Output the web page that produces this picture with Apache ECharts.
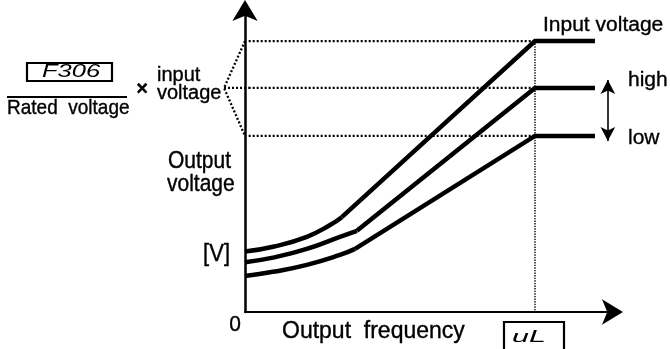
<!DOCTYPE html>
<html>
<head>
<meta charset="utf-8">
<script src="https://cdn.jsdelivr.net/npm/echarts@6/dist/echarts.min.js"></script>
<style>
html,body{margin:0;padding:0;background:#fff;}
#chart{width:670px;height:349px;}
</style>
</head>
<body>
<div id="chart"></div>
<script>
// ---- data (schematic units: frequency 0..100, voltage 0..100) ----
const freqRange = [0, 100];
const voltRange = [0, 100];
const baseFreq = 78.8;          // uL (upper limit frequency)
const freqEnd = 95.1;           // end of the flat segments
const voltLevels = [89.7, 74.2, 58.3];   // input voltage, high, low
const bracketFreq = -5.7;       // apex of the dotted bracket (left of axis)
const dotStartFreq = 1.0;
const upperCurve = [[0, 20.0], [7.6, 21.6], [16.8, 24.9], [23.1, 28.8], [26.3, 31.4]];
const middleCurve = [[0, 16.5], [7.6, 18.0], [16.8, 20.9], [25.8, 24.9], [30.4, 26.9]];
const lowerCurve = [[0, 11.9], [7.6, 13.3], [16.8, 15.6], [25.8, 18.9], [29.9, 20.9]];
const arrowFreq = 98.6;
const arrowVolt = [76.8, 56.6];

const curves = [upperCurve, middleCurve, lowerCurve];
const FONT = '"Liberation Sans", Arial, sans-serif';
const DOT = { color: '#000', width: 2.3, dash: [2, 2] };

const series = [];
// dotted horizontal guides
voltLevels.forEach(function (v) {
  series.push({
    type: 'line', silent: true, symbol: 'none', z: 1,
    data: [[dotStartFreq, v], [baseFreq, v]],
    lineStyle: { color: DOT.color, width: DOT.width, type: DOT.dash }
  });
});
// dotted vertical at uL + double arrow
series.push({
  type: 'line', silent: true, symbol: 'none', z: 1,
  data: [[baseFreq, voltLevels[0]], [baseFreq, 0]],
  lineStyle: { color: '#000', width: 1.4, type: [1.4, 1.2] },
  markLine: {
    silent: true, symbol: ['arrow', 'arrow'], symbolSize: [11, 14],
    label: { show: false },
    lineStyle: { color: '#000', width: 1.6, type: 'solid' },
    data: [[{ coord: [arrowFreq, arrowVolt[0]] }, { coord: [arrowFreq, arrowVolt[1]] }]]
  }
});
// curves and straight segments
curves.forEach(function (c, i) {
  series.push({
    type: 'line', silent: true, symbol: 'none', smooth: 0.5, z: 3,
    data: c,
    lineStyle: { color: '#000', width: 4.5 }
  });
  series.push({
    type: 'line', silent: true, symbol: 'none', z: 3,
    data: [c[c.length - 1], [baseFreq, voltLevels[i]], [freqEnd, voltLevels[i]]],
    lineStyle: { color: '#000', width: 4.5, join: 'miter' }
  });
});

function txt(text, x, y, size, align, extra) {
  const st = {
    text: text, font: (extra && extra.font) || (size + 'px ' + FONT), fill: '#000',
    stroke: '#000', lineWidth: (extra && extra.lw !== undefined) ? extra.lw : 0.35,
    textAlign: align, align: align, textVerticalAlign: 'middle', verticalAlign: 'middle'
  };
  const el = { type: 'text', x: x, y: y, silent: true, z: 100, style: st };
  if (extra && extra.scaleX) { el.scaleX = extra.scaleX; }
  if (extra && extra.scaleY) { el.scaleY = extra.scaleY; }
  return el;
}

const graphic = [
  { type: 'rect', silent: true, shape: { x: 27, y: 63, width: 85, height: 18 },
    style: { fill: 'none', stroke: '#000', lineWidth: 2.2 } },
  txt('F306', 71, 72.5, 17, 'center', { font: 'italic 17px ' + FONT, scaleX: 1.5, scaleY: 1.05, lw: 0 }),
  { type: 'line', silent: true, shape: { x1: 7, y1: 97, x2: 127, y2: 97 },
    style: { stroke: '#000', lineWidth: 2 } },
  txt('Rated  voltage', 7, 108, 19, 'left', { scaleY: 1.1 }),
  txt('×', 142, 89, 20, 'center', { font: 'bold 20px ' + FONT }),
  txt('input', 157, 75, 20, 'left', { scaleY: 1.05 }),
  txt('voltage', 157, 93, 20, 'left', { scaleY: 1.05 }),
  txt('Output', 168, 162, 21, 'left', { scaleY: 1.1 }),
  txt('voltage', 167, 185, 21, 'left', { scaleY: 1.1 }),
  txt('[V]', 230, 255, 22, 'right', { scaleY: 1.05 }),
  txt('0', 235, 325, 21, 'center', { scaleY: 1.05 }),
  txt('Output  frequency', 282, 331, 23, 'left', { scaleY: 1.05 }),
  { type: 'rect', silent: true, shape: { x: 504, y: 322, width: 60, height: 40 },
    style: { fill: 'none', stroke: '#000', lineWidth: 2.2 } },
  txt('uL', 529, 338, 16, 'center', { font: 'italic 16px ' + FONT, scaleX: 1.9, lw: 0 }),
  txt('Input voltage', 543, 25, 20, 'left', { scaleX: 1.05 }),
  txt('high', 628, 80, 21, 'left'),
  txt('low', 628, 138, 21, 'left')
];

const chart = echarts.init(document.getElementById('chart'), null, { renderer: 'canvas' });
chart.setOption({
  animation: false,
  backgroundColor: '#fff',
  grid: { left: 245, right: 57, top: 10, bottom: 37, containLabel: false, outerBoundsMode: 'none' },
  xAxis: {
    type: 'value', min: freqRange[0], max: freqRange[1],
    axisLine: { show: true, onZero: false, lineStyle: { color: '#000', width: 2 },
      symbol: ['none', 'arrow'], symbolSize: [19, 21], symbolOffset: [0, 10] },
    axisTick: { show: false }, axisLabel: { show: false }, splitLine: { show: false }
  },
  yAxis: {
    type: 'value', min: voltRange[0], max: voltRange[1],
    axisLine: { show: true, onZero: false, lineStyle: { color: '#000', width: 2.5 },
      symbol: ['none', 'arrow'], symbolSize: [19, 21], symbolOffset: [0, 10] },
    axisTick: { show: false }, axisLabel: { show: false }, splitLine: { show: false }
  },
  series: series,
  graphic: graphic
});

// dotted bracket (outside the plot area), positioned through the chart's own scales
function px(p) { return chart.convertToPixel({ gridIndex: 0 }, p); }
const apex = px([bracketFreq, voltLevels[1]]);
const bracketGraphic = [
  { type: 'polyline', silent: true, z: 1,
    shape: { points: [px([0, voltLevels[0]]), apex, px([0, voltLevels[2]])] },
    style: { fill: 'none', stroke: DOT.color, lineWidth: DOT.width, lineDash: DOT.dash } },
  { type: 'line', silent: true, z: 1,
    shape: { x1: apex[0], y1: apex[1], x2: px([dotStartFreq, voltLevels[1]])[0], y2: apex[1] },
    style: { stroke: DOT.color, lineWidth: DOT.width, lineDash: DOT.dash } }
];
chart.setOption({ graphic: graphic.concat(bracketGraphic) });
</script>
</body>
</html>
